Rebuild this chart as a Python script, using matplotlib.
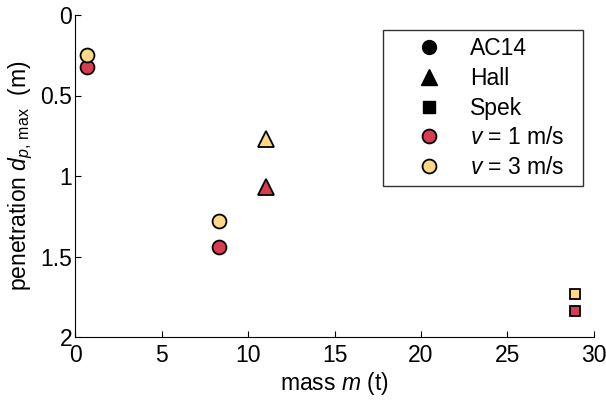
import matplotlib.pyplot as plt
from matplotlib.lines import Line2D

plt.rcParams['font.family'] = ['Liberation Sans', 'DejaVu Sans']
plt.rcParams['mathtext.fontset'] = 'custom'
plt.rcParams['mathtext.it'] = 'Liberation Sans:italic'
plt.rcParams['mathtext.rm'] = 'Liberation Sans'

# data: mass (t) and max penetration (m)
models = ['AC14', 'Hall', 'Spek']
markers = ['o', '^', 's']
ac14_mass = [0.68, 8.33]
ac14_v1 = [0.32, 1.44]
ac14_v3 = [0.25, 1.28]
hall_mass = [11.05]
hall_v1 = [1.07]
hall_v3 = [0.77]
spek_mass = [28.9]
spek_v1 = [1.84]
spek_v3 = [1.73]

red = '#d83c50'
yellow = '#fdd987'

fig, ax = plt.subplots(figsize=(6.06, 4.0), dpi=100)
fig.subplots_adjust(left=0.124, right=0.980, top=0.9625, bottom=0.1575)

ax.plot(ac14_mass, ac14_v1, 'o', ms=10, mfc=red, mec='k', mew=1.3, ls='none')
ax.plot(ac14_mass, ac14_v3, 'o', ms=10, mfc=yellow, mec='k', mew=1.3, ls='none')
ax.plot(hall_mass, hall_v1, '^', ms=11, mfc=red, mec='k', mew=1.3, ls='none')
ax.plot(hall_mass, hall_v3, '^', ms=11, mfc=yellow, mec='k', mew=1.3, ls='none')
ax.plot(spek_mass, spek_v1, 's', ms=7, mfc=red, mec='k', mew=1.3, ls='none')
ax.plot(spek_mass, spek_v3, 's', ms=7, mfc=yellow, mec='k', mew=1.3, ls='none')

ax.set_xlim(0, 30)
ax.set_ylim(2, 0)
ax.set_xticks([0, 5, 10, 15, 20, 25, 30])
ax.set_yticks([0, 0.5, 1, 1.5, 2])
ax.set_yticklabels(['0', '0.5', '1', '1.5', '2'])
ax.tick_params(direction='in', labelsize=16.5, length=4)
ax.tick_params(axis='y', pad=2)
ax.tick_params(axis='x', pad=5)
ax.spines['top'].set_visible(False)
ax.spines['right'].set_visible(False)
ax.set_xlabel('mass $m$ (t)', fontsize=16.5, labelpad=2)
ax.set_ylabel('penetration $d_{p,\\,\\mathrm{max}}$  (m)', fontsize=16.5, labelpad=4)

handles = [Line2D([], [], marker=m, color='k', ls='none', ms=11 if m == '^' else (8 if m == 's' else 10))
           for m in markers]
handles.append(Line2D([], [], marker='o', ls='none', ms=10, mfc=red, mec='k', mew=1.3))
handles.append(Line2D([], [], marker='o', ls='none', ms=10, mfc=yellow, mec='k', mew=1.3))
labels = models + ['$v$ = 1 m/s', '$v$ = 3 m/s']
leg = ax.legend(handles, labels, loc='upper left',
                bbox_to_anchor=(383 / 606, 0, 200 / 606, 1 - 30 / 400), mode='expand',
                bbox_transform=fig.transFigure, fontsize=16.5, frameon=True, fancybox=False,
                edgecolor='k', handlelength=3.4, handletextpad=0.1, borderpad=0.3,
                labelspacing=0.3, borderaxespad=0)
leg.get_frame().set_linewidth(1.0)

fig.savefig('out.png', dpi=100)
